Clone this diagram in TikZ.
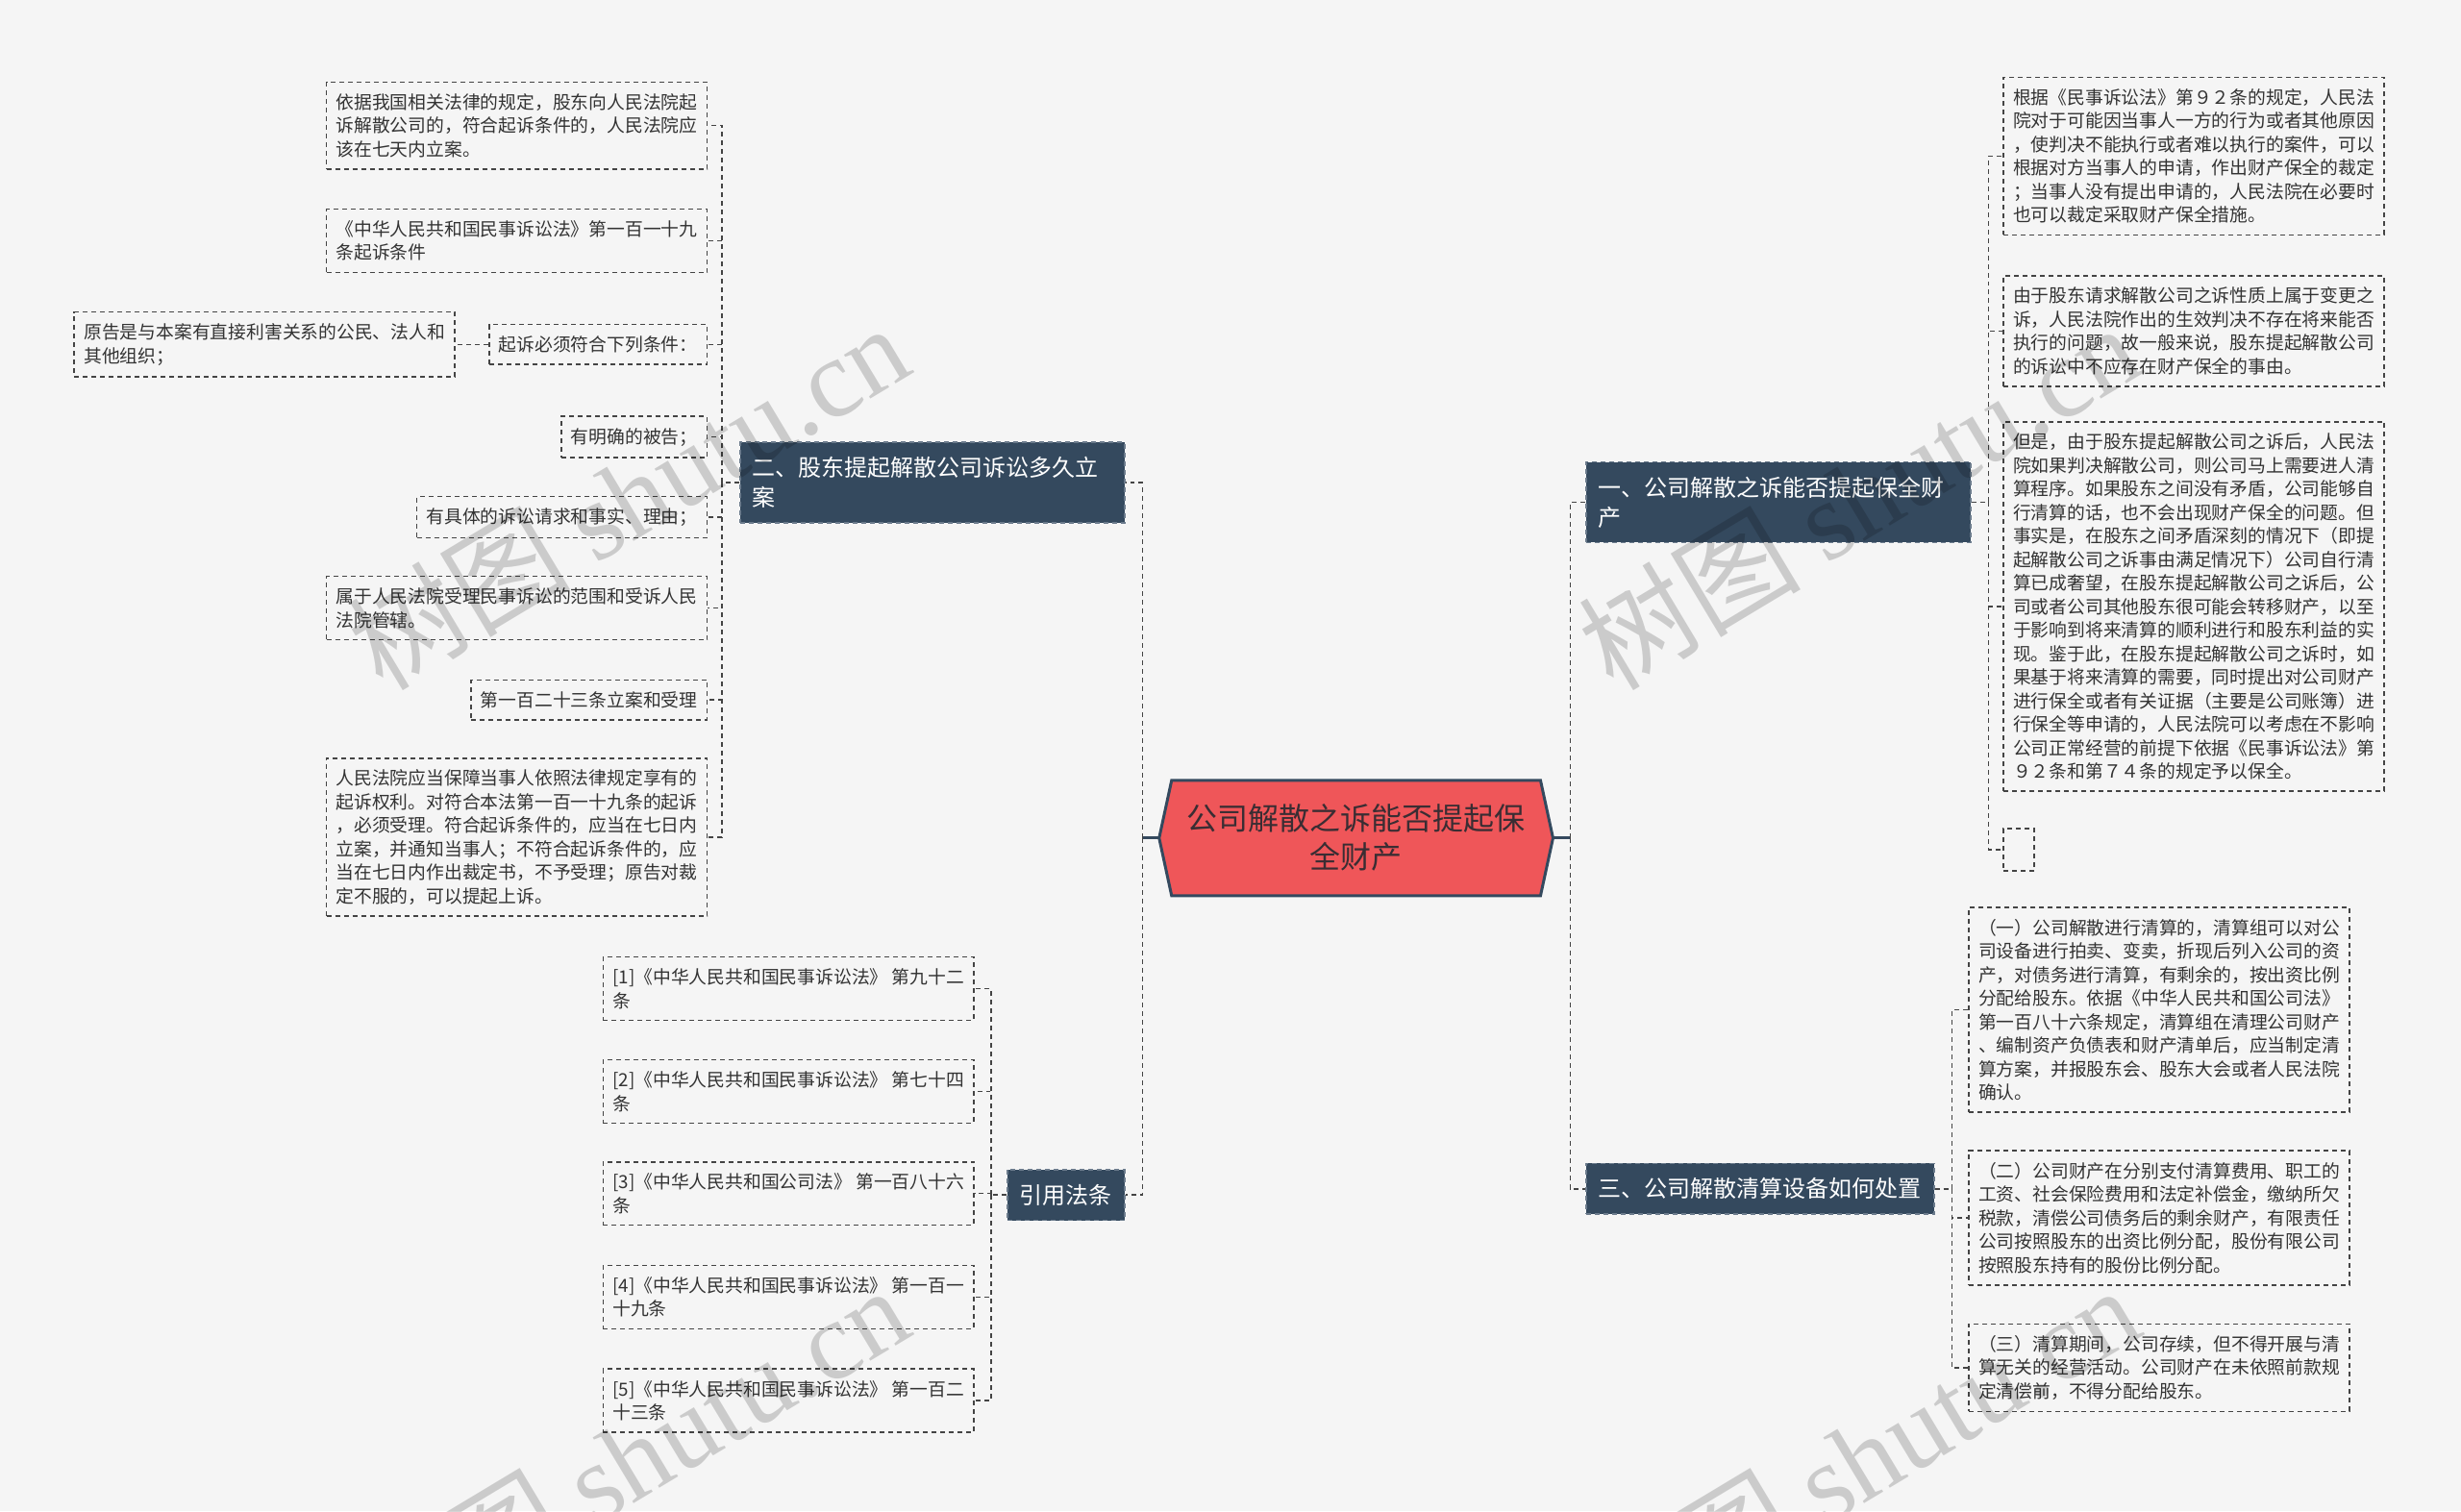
\documentclass[tikz,border=0pt]{standalone}
\usepackage{fontspec}
\setmainfont{Noto Sans CJK SC}
\newfontfamily\wmfont{Liberation Serif}
\usepackage{xcolor}
\usepackage{tikz}
\usetikzlibrary{positioning,backgrounds}
\definecolor{canvas}{HTML}{F5F5F5}
\definecolor{navy}{HTML}{34495E}
\definecolor{navyedge}{HTML}{6B7B8C}
\definecolor{rootred}{HTML}{EF5659}
\definecolor{rootink}{HTML}{3A2D33}
\definecolor{inkgray}{HTML}{333333}
\definecolor{wire}{HTML}{444444}

\begin{document}
\begin{tikzpicture}[
    x=0.8165pt, y=-0.8165pt,
    leaf/.style={rectangle, draw=wire, line width=0.8pt, dash pattern=on 2.5pt off 2pt, fill=canvas, align=left, text=inkgray, inner xsep=5pt, inner ysep=6pt, font=\fontsize{9.4}{12.25}\selectfont},
    branch/.style={rectangle, draw=navyedge, line width=0.8pt, dash pattern=on 2.5pt off 2pt, fill=navy, align=left, text=white, inner xsep=6.5pt, inner ysep=7.6pt, font=\fontsize{12}{15.5}\selectfont},
    rootbox/.style={rectangle, align=center, text=rootink, minimum width=191.5pt, minimum height=59.6pt, inner sep=0pt, font=\fontsize{16}{20}\selectfont},
    hexline/.style={fill=rootred, draw=navy, line width=1.5pt, line join=miter},
    link/.style={draw=wire, line width=0.8pt, dash pattern=on 2.5pt off 2pt},
    rootlink/.style={draw=navy, line width=1.5pt},
    wmark/.style={rotate=31, text=black, text opacity=0.17, font=\fontsize{58}{58}\selectfont}
]
\useasboundingbox (0,0) rectangle (1568,963);

\node[rootbox] (root) at (864,534) {公司解散之诉能否提起保\\全财产};
\coordinate (rootW) at ([xshift=-6.5pt]root.west);
\coordinate (rootE) at ([xshift=6.5pt]root.east);

\begin{scope}[on background layer]
\fill[canvas] (0,0) rectangle (1568,963);
\filldraw[hexline] (rootW) -- (root.north west) -- (root.north east) -- (rootE) -- (root.south east) -- (root.south west) -- cycle;
\end{scope}

\node[branch, anchor=east, text width=187pt] (stand) at (717,307.5) {二、股东提起解散公司诉讼多久立\\案};
\node[branch, anchor=east] (cite) at (717,761.5) {引用法条};
\node[branch, anchor=west, text width=187pt] (secure) at (1010,320) {一、公司解散之诉能否提起保全财\\产};
\node[branch, anchor=west] (liquid) at (1010,757.5) {三、公司解散清算设备如何处置};

\node[leaf, anchor=east] (law) at (451,80) {依据我国相关法律的规定，股东向人民法院起\\诉解散公司的，符合起诉条件的，人民法院应\\该在七天内立案。};
\node[leaf, anchor=east] (art) at (451,153.5) {《中华人民共和国民事诉讼法》第一百一十九\\条起诉条件};
\node[leaf, anchor=east] (cond) at (451,219.5) {起诉必须符合下列条件：};
\node[leaf, left=17pt of cond] (plaintiff) {原告是与本案有直接利害关系的公民、法人和\\其他组织；};
\node[leaf, anchor=east] (defendant) at (451,278.5) {有明确的被告；};
\node[leaf, anchor=east] (claim) at (451,329.5) {有具体的诉讼请求和事实、理由；};
\node[leaf, anchor=east] (court) at (451,387.5) {属于人民法院受理民事诉讼的范围和受诉人民\\法院管辖。};
\node[leaf, anchor=east] (accept) at (451,446) {第一百二十三条立案和受理};
\node[leaf, anchor=east] (duty) at (451,533.5) {人民法院应当保障当事人依照法律规定享有的\\起诉权利。对符合本法第一百一十九条的起诉\\，必须受理。符合起诉条件的，应当在七日内\\立案，并通知当事人；不符合起诉条件的，应\\当在七日内作出裁定书，不予受理；原告对裁\\定不服的，可以提起上诉。};

\node[leaf, anchor=east] (ref1) at (621,630) {[1]《中华人民共和国民事诉讼法》 第九十二\\条};
\node[leaf, anchor=east] (ref2) at (621,695.5) {[2]《中华人民共和国民事诉讼法》 第七十四\\条};
\node[leaf, anchor=east] (ref3) at (621,760.5) {[3]《中华人民共和国公司法》 第一百八十六\\条};
\node[leaf, anchor=east] (ref4) at (621,826.5) {[4]《中华人民共和国民事诉讼法》 第一百一\\十九条};
\node[leaf, anchor=east] (ref5) at (621,892.5) {[5]《中华人民共和国民事诉讼法》 第一百二\\十三条};

\node[leaf, anchor=west] (keep1) at (1276,99.5) {根据《民事诉讼法》第９２条的规定，人民法\\院对于可能因当事人一方的行为或者其他原因\\，使判决不能执行或者难以执行的案件，可以\\根据对方当事人的申请，作出财产保全的裁定\\；当事人没有提出申请的，人民法院在必要时\\也可以裁定采取财产保全措施。};
\node[leaf, anchor=west] (keep2) at (1276,211) {由于股东请求解散公司之诉性质上属于变更之\\诉，人民法院作出的生效判决不存在将来能否\\执行的问题，故一般来说，股东提起解散公司\\的诉讼中不应存在财产保全的事由。};
\node[leaf, anchor=west] (keep3) at (1276,386.5) {但是，由于股东提起解散公司之诉后，人民法\\院如果判决解散公司，则公司马上需要进人清\\算程序。如果股东之间没有矛盾，公司能够自\\行清算的话，也不会出现财产保全的问题。但\\事实是，在股东之间矛盾深刻的情况下（即提\\起解散公司之诉事由满足情况下）公司自行清\\算已成奢望，在股东提起解散公司之诉后，公\\司或者公司其他股东很可能会转移财产，以至\\于影响到将来清算的顺利进行和股东利益的实\\现。鉴于此，在股东提起解散公司之诉时，如\\果基于将来清算的需要，同时提出对公司财产\\进行保全或者有关证据（主要是公司账簿）进\\行保全等申请的，人民法院可以考虑在不影响\\公司正常经营的前提下依据《民事诉讼法》第\\９２条和第７４条的规定予以保全。};
\node[leaf, anchor=west, minimum width=16pt, minimum height=22pt] (blank) at (1276,541.5) {};

\node[leaf, anchor=west] (clear1) at (1254,643.5) {（一）公司解散进行清算的，清算组可以对公\\司设备进行拍卖、变卖，折现后列入公司的资\\产，对债务进行清算，有剩余的，按出资比例\\分配给股东。依据《中华人民共和国公司法》\\第一百八十六条规定，清算组在清理公司财产\\、编制资产负债表和财产清单后，应当制定清\\算方案，并报股东会、股东大会或者人民法院\\确认。};
\node[leaf, anchor=west] (clear2) at (1254,776) {（二）公司财产在分别支付清算费用、职工的\\工资、社会保险费用和法定补偿金，缴纳所欠\\税款，清偿公司债务后的剩余财产，有限责任\\公司按照股东的出资比例分配，股份有限公司\\按照股东持有的股份比例分配。};
\node[leaf, anchor=west] (clear3) at (1254,871.5) {（三）清算期间，公司存续，但不得开展与清\\算无关的经营活动。公司财产在未依照前款规\\定清偿前，不得分配给股东。};

\draw[rootlink] (rootW) -- ++(-10.5,0) coordinate (leftbus);
\draw[rootlink] (rootE) -- ++(11,0) coordinate (rightbus);
\draw[link] (leftbus) |- (stand.east);
\draw[link] (leftbus) |- (cite.east);
\draw[link] (rightbus) |- (secure.west);
\draw[link] (rightbus) |- (liquid.west);

\draw[link] (stand.west) -- ++(-11,0) coordinate (standbus);
\foreach \n in {law,art,cond,defendant,claim,court,accept,duty}
    \draw[link] (standbus) |- (\n.east);
\draw[link] (cond.west) -- (plaintiff.east);

\draw[link] (cite.west) -- ++(-10,0) coordinate (citebus);
\foreach \n in {ref1,ref2,ref3,ref4,ref5}
    \draw[link] (citebus) |- (\n.east);

\draw[link] (secure.east) -- ++(11,0) coordinate (securebus);
\foreach \n in {keep1,keep2,keep3,blank}
    \draw[link] (securebus) |- (\n.west);

\draw[link] (liquid.east) -- ++(11,0) coordinate (liquidbus);
\foreach \n in {clear1,clear2,clear3}
    \draw[link] (liquidbus) |- (\n.west);

\foreach \wx/\wy/\k in {400/316/1,1184/316/2,400/929/3,1184/929/4}
    \node[wmark] (wm\k) at (\wx,\wy) {树图 {\wmfont shutu.cn}};
\end{tikzpicture}
\end{document}
